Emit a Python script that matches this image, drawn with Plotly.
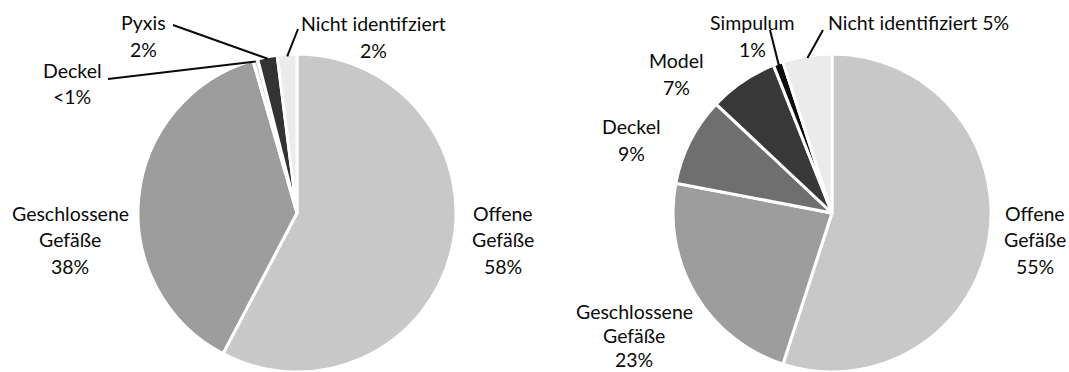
import math
import plotly.graph_objects as go

W, H = 1069, 372

# ---- data -------------------------------------------------------------
left_categories = ["Offene Gefäße", "Geschlossene Gefäße", "Deckel", "Pyxis", "Nicht identifziert"]
left_values = [58, 38, 0.5, 2, 2]
left_pct_labels = ["58%", "38%", "<1%", "2%", "2%"]

right_categories = ["Offene Gefäße", "Geschlossene Gefäße", "Deckel", "Model", "Simpulum",
                    "Nicht identifiziert"]
right_values = [55, 23, 9, 7, 1, 5]
right_pct_labels = ["55%", "23%", "9%", "7%", "1%", "5%"]

# ---- styling ----------------------------------------------------------
left_colors = ["#c8c8c8", "#9d9d9d", "#dcdcdc", "#333333", "#ebebeb"]
right_colors = ["#c8c8c8", "#9d9d9d", "#6f6f6f", "#383838", "#0c0c0c", "#ebebeb"]
FONT = "Lato"
FONT_SIZE = 19.5
LINE_GAP = 26.5

# pie geometry in pixels (centre x, centre y, radius)
LEFT_PIE = (297, 213, 159)
RIGHT_PIE = (832, 213, 159)


def domain(pie):
    cx, cy, r = pie
    return dict(x=[(cx - r) / W, (cx + r) / W],
                y=[max(0.0, (H - cy - r) / H), min(1.0, (H - cy + r) / H)])


def slice_mid_point(values, idx, pie, extra=0):
    """Pixel position on the rim at the middle of slice idx (clockwise from 12 o'clock)."""
    cx, cy, r = pie
    total = sum(values)
    start = sum(values[:idx]) / total
    mid = (start + values[idx] / total / 2) * 2 * math.pi
    rr = r + extra
    return cx + rr * math.sin(mid), cy - rr * math.cos(mid)


fig = go.Figure()
for cats, vals, cols, pie in [(left_categories, left_values, left_colors, LEFT_PIE),
                              (right_categories, right_values, right_colors, RIGHT_PIE)]:
    fig.add_trace(go.Pie(
        labels=cats, values=vals, sort=False, direction="clockwise", rotation=0,
        marker=dict(colors=cols, line=dict(color="white", width=3)),
        textinfo="none", hoverinfo="label+percent", showlegend=False,
        domain=domain(pie),
    ))

annotations = []
shapes = []


def add_label(lines, cx, cy_first, gap=LINE_GAP):
    for i, line in enumerate(lines):
        y = cy_first + i * gap
        annotations.append(dict(
            text=line, x=cx / W, y=1 - y / H, xref="paper", yref="paper",
            xanchor="center", yanchor="middle", showarrow=False,
            font=dict(family=FONT, size=FONT_SIZE, color="#0a0a0a"),
        ))


def add_leader(values, idx, pie, end_px):
    sx, sy = slice_mid_point(values, idx, pie, extra=-2)
    ex, ey = end_px
    shapes.append(dict(type="line", xref="paper", yref="paper",
                       x0=sx / W, y0=1 - sy / H, x1=ex / W, y1=1 - ey / H,
                       line=dict(color="#0a0a0a", width=2)))


def split_name(name):
    return name.split(" ") if name.startswith(("Offene", "Geschlossene")) else [name]


# left pie labels
L = left_categories
add_label(split_name(L[0]) + [left_pct_labels[0]], 503, 213)
add_label(split_name(L[1]) + [left_pct_labels[1]], 70, 213)
add_label([L[2], left_pct_labels[2]], 72, 70)
add_label([L[3], left_pct_labels[3]], 143, 23)
add_label([L[4], left_pct_labels[4]], 373, 24)
add_leader(left_values, 2, LEFT_PIE, (108, 79))
add_leader(left_values, 3, LEFT_PIE, (173, 25))
add_leader(left_values, 4, LEFT_PIE, (298, 29))

# right pie labels
R = right_categories
add_label(split_name(R[0]) + [right_pct_labels[0]], 1035, 213)
add_label(split_name(R[1]) + [right_pct_labels[1]], 634, 311, gap=24)
add_label([R[2], right_pct_labels[2]], 631, 127)
add_label([R[3], right_pct_labels[3]], 676, 61)
add_label([R[4], right_pct_labels[4]], 752, 23)
add_label([R[5] + " " + right_pct_labels[5]], 918, 23)
add_leader(right_values, 4, RIGHT_PIE, (770, 30))
add_leader(right_values, 5, RIGHT_PIE, (823, 30))

fig.update_layout(
    width=W, height=H, margin=dict(l=0, r=0, t=0, b=0),
    paper_bgcolor="white", plot_bgcolor="white",
    annotations=annotations, shapes=shapes,
)

fig.write_html("out.html")
